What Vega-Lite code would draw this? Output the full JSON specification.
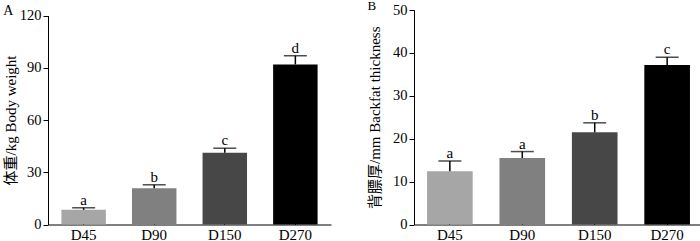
{
  "$schema": "https://vega.github.io/schema/vega-lite/v6.json",
  "padding": {"left": 3, "top": 0, "right": 0, "bottom": 0},
  "spacing": 36,
  "config": {
    "view": {"stroke": null},
    "font": "Liberation Serif",
    "axis": {"domainColor": "#000", "tickColor": "#000", "labelColor": "#000", "titleColor": "#000", "grid": false, "labelFont": "Liberation Serif", "titleFont": "Liberation Serif, Noto Sans CJK SC", "titleFontWeight": "normal"},
    "title": {"font": "Liberation Serif", "fontWeight": "normal", "color": "#000"}
  },
  "hconcat": [
    {
      "width": 283,
      "height": 214.5,
      "title": {"text": "A", "anchor": "start", "frame": "bounds", "fontSize": 14, "baseline": "alphabetic", "offset": -21, "dx": 0},
      "data": {"values": [
        {"day": "D45", "mean": 8.4, "upper": 9.6, "sig": "a"},
        {"day": "D90", "mean": 20.8, "upper": 22.8, "sig": "b"},
        {"day": "D150", "mean": 41.2, "upper": 43.8, "sig": "c"},
        {"day": "D270", "mean": 91.9, "upper": 96.9, "sig": "d"}
      ]},
      "encoding": {
        "x": {"field": "day", "type": "nominal", "sort": null, "title": null,
          "scale": {"paddingInner": 0.37, "paddingOuter": 0.19},
          "axis": {"labelAngle": 0, "labelFontSize": 15, "tickSize": -4, "labelPadding": 7}}
      },
      "layer": [
        {"mark": {"type": "bar"},
          "encoding": {
            "y": {"field": "mean", "type": "quantitative", "title": "体重/kg  Body weight",
              "scale": {"domain": [0, 120], "range": [214.5, 5.5], "nice": false},
              "axis": {"values": [0, 30, 60, 90, 120], "labelFontSize": 14.5, "tickSize": 5, "labelPadding": 2, "titleFontSize": 15, "titlePadding": 1}},
            "color": {"field": "day", "type": "nominal", "sort": null, "legend": null,
              "scale": {"domain": ["D45", "D90", "D150", "D270"], "range": ["#a6a6a6", "#808080", "#474747", "#000000"]}}
          }},
        {"mark": {"type": "rule", "color": "#000", "strokeWidth": 1.5},
          "encoding": {"y": {"field": "mean", "type": "quantitative"}, "y2": {"field": "upper"}}},
        {"mark": {"type": "tick", "color": "#000", "size": 23, "thickness": 1.5, "orient": "horizontal"},
          "encoding": {"y": {"field": "upper", "type": "quantitative"}}},
        {"mark": {"type": "text", "baseline": "alphabetic", "dy": -3, "fontSize": 15, "font": "Liberation Serif", "color": "#000"},
          "encoding": {"y": {"field": "upper", "type": "quantitative"}, "text": {"field": "sig"}}}
      ]
    },
    {
      "width": 289,
      "height": 214.5,
      "title": {"text": "B", "anchor": "start", "frame": "bounds", "fontSize": 13, "baseline": "alphabetic", "offset": -21, "dx": 0},
      "data": {"values": [
        {"day": "D45", "mean": 12.4, "upper": 14.8, "sig": "a"},
        {"day": "D90", "mean": 15.5, "upper": 17.0, "sig": "a"},
        {"day": "D150", "mean": 21.5, "upper": 23.7, "sig": "b"},
        {"day": "D270", "mean": 37.2, "upper": 39.0, "sig": "c"}
      ]},
      "encoding": {
        "x": {"field": "day", "type": "nominal", "sort": null, "title": null,
          "scale": {"paddingInner": 0.37, "paddingOuter": 0.18},
          "axis": {"labelAngle": 0, "labelFontSize": 15, "tickSize": -4, "labelPadding": 7}}
      },
      "layer": [
        {"mark": {"type": "bar"},
          "encoding": {
            "y": {"field": "mean", "type": "quantitative", "title": "背膘厚/mm  Backfat thickness",
              "scale": {"domain": [0, 50], "nice": false},
              "axis": {"values": [0, 10, 20, 30, 40, 50], "labelFontSize": 14.5, "tickSize": 5, "labelPadding": 2, "titleFontSize": 15, "titlePadding": 10}},
            "color": {"field": "day", "type": "nominal", "sort": null, "legend": null,
              "scale": {"domain": ["D45", "D90", "D150", "D270"], "range": ["#a6a6a6", "#808080", "#474747", "#000000"]}}
          }},
        {"mark": {"type": "rule", "color": "#000", "strokeWidth": 1.5},
          "encoding": {"y": {"field": "mean", "type": "quantitative"}, "y2": {"field": "upper"}}},
        {"mark": {"type": "tick", "color": "#000", "size": 23, "thickness": 1.5, "orient": "horizontal"},
          "encoding": {"y": {"field": "upper", "type": "quantitative"}}},
        {"mark": {"type": "text", "baseline": "alphabetic", "dy": -3, "fontSize": 15, "font": "Liberation Serif", "color": "#000"},
          "encoding": {"y": {"field": "upper", "type": "quantitative"}, "text": {"field": "sig"}}}
      ]
    }
  ],
  "resolve": {"scale": {"color": "independent"}}
}
